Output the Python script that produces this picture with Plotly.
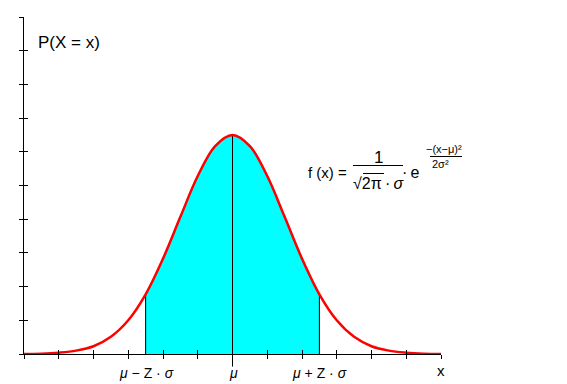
import plotly.graph_objects as go

# ---- data (x in units of axis ticks, mu at 0) ----
x_vals = [-6.0, -5.5, -5.0, -4.5, -4.0, -3.5, -3.0, -2.5, -2.0, -1.5, -1.0, -0.5,
          0.0, 0.5, 1.0, 1.5, 2.0, 2.5, 3.0, 3.5, 4.0, 4.5, 5.0, 5.5, 6.0]
y_vals = [0.00, 0.01, 0.04, 0.10, 0.23, 0.51, 1.00, 1.77, 2.83, 4.07, 5.28, 6.17,
          6.50, 6.17, 5.28, 4.07, 2.83, 1.77, 1.00, 0.51, 0.23, 0.10, 0.04, 0.01, 0.00]
mu = 0.0
z_low = -2.5
z_high = 2.5
x_ticks = [-6, -5, -4, -3, -2, -1, 0, 1, 2, 3, 4, 5, 6]
y_ticks = [0, 1, 2, 3, 4, 5, 6, 7, 8, 9, 10]
tick_labels = ["<i>μ</i> − Z · <i>σ</i>", "<i>μ</i>", "<i>μ</i> + Z · <i>σ</i>"]
tick_label_pos = [z_low, mu, z_high]

W, H = 567, 384
L, T, R, B = 24, 17, 441, 354


def PX(p):
    return (p - L) / (R - L)


def PY(p):
    return (B - p) / (B - T)


def val_at(x):
    return y_vals[x_vals.index(x)]


fig = go.Figure()

# shaded region between mu - Z sigma and mu + Z sigma
sx = [x for x in x_vals if z_low <= x <= z_high]
sy = [val_at(x) for x in sx]
fig.add_trace(go.Scatter(x=sx, y=sy, mode="lines", fill="tozeroy",
                         fillcolor="#00ffff", line=dict(width=0, shape="spline"),
                         hoverinfo="skip", showlegend=False))

# vertical lines
for xv in [z_low, mu, z_high]:
    fig.add_trace(go.Scatter(x=[xv, xv], y=[0, val_at(xv)], mode="lines",
                             line=dict(color="black", width=1),
                             hoverinfo="skip", showlegend=False))

# curve
fig.add_trace(go.Scatter(x=x_vals, y=y_vals, mode="lines",
                         line=dict(color="#ff0000", width=2.5, shape="spline"),
                         hoverinfo="skip", showlegend=False))

# longer tick at mu
fig.add_trace(go.Scatter(x=[mu], y=[0], mode="markers", cliponaxis=False,
                         marker=dict(symbol="line-ns", size=18,
                                     line=dict(color="black", width=1)),
                         hoverinfo="skip", showlegend=False))

# dummy trace for overlay axes (inside halves of crossing ticks)
fig.add_trace(go.Scatter(x=[mu], y=[0], mode="markers", xaxis="x2", yaxis="y2",
                         marker=dict(size=1, opacity=0), hoverinfo="skip",
                         showlegend=False))

axis_common = dict(showline=True, linecolor="black", linewidth=1, showgrid=False,
                   zeroline=False, showticklabels=False, tickcolor="black",
                   tickwidth=1, ticklen=4)

fig.update_layout(
    width=W, height=H,
    margin=dict(l=L, r=W - R, t=T, b=H - B, pad=0),
    paper_bgcolor="white", plot_bgcolor="white",
    xaxis=dict(range=[-6, 6], tickvals=x_ticks, ticks="outside", **axis_common),
    yaxis=dict(range=[0, 10], tickvals=y_ticks, ticks="outside", **axis_common),
    xaxis2=dict(overlaying="x", matches="x", anchor="y", side="bottom",
                range=[-6, 6], tickvals=x_ticks, ticks="inside", **axis_common),
    yaxis2=dict(overlaying="y", matches="y", anchor="x", side="left",
                range=[0, 10], tickvals=y_ticks, ticks="inside", **axis_common),
    font=dict(family="Arial, Liberation Sans, sans-serif", color="black"),
)

ann = []


def add_text(text, x, y, size, xanchor="center"):
    ann.append(dict(text=text, x=PX(x), y=PY(y), xref="paper", yref="paper",
                    xanchor=xanchor, yanchor="middle", showarrow=False,
                    font=dict(size=size, color="black")))


add_text("P(X = x)", 36, 42, 17, "left")
add_text("x", 441, 370, 15)
for lab, pos in zip(tick_labels, tick_label_pos):
    add_text(lab, 233 + pos * (R - L) / 12, 373, 14)

# formula
add_text("f (x) =", 349, 172, 15, "right")
add_text("1", 378, 157, 17)
add_text("√2π\u2009·\u2009<i>σ</i>", 378, 183, 16)
add_text("·\u2009e", 411, 172, 16)
add_text("−(x−μ)²", 444, 149, 11)
add_text("2σ²", 440, 164, 11)

fig.update_layout(annotations=ann)

shapes = []


def hline(x0, x1, y, w=1):
    shapes.append(dict(type="line", xref="paper", yref="paper",
                       x0=PX(x0), x1=PX(x1), y0=PY(y), y1=PY(y),
                       line=dict(color="black", width=w)))


hline(353, 403, 165.5)
hline(430, 462, 156.5)
hline(363, 384, 173.5)
fig.update_layout(shapes=shapes)

fig.write_html("out.html")
